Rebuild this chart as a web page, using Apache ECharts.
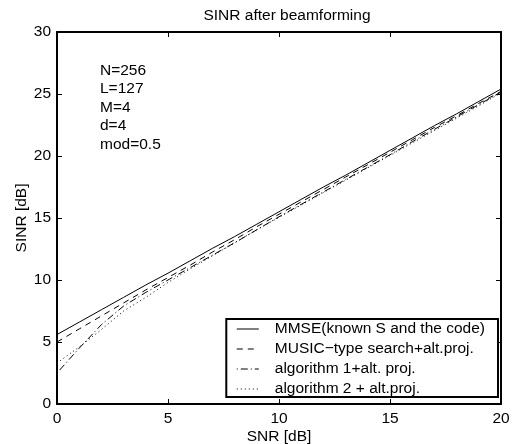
<!DOCTYPE html>
<html>
<head>
<meta charset="UTF-8">
<title>SINR after beamforming</title>
<script src="https://cdn.jsdelivr.net/npm/echarts@6/dist/echarts.min.js"></script>
<style>
  html, body { margin: 0; padding: 0; background: #fff; }
  #chart { width: 517px; height: 444px; }
</style>
</head>
<body>
<div id="chart"></div>
<script>
const snr = [0, 1, 2, 3, 4, 5, 6, 7, 8, 9, 10, 11, 12, 13, 14, 15, 16, 17, 18, 19, 20];
const mmse = [5.6, 6.6, 7.6, 8.6, 9.6, 10.55, 11.55, 12.55, 13.5, 14.5, 15.5, 16.5, 17.5, 18.45, 19.45, 20.45, 21.45, 22.45, 23.4, 24.4, 25.4];
const music = [5.0, 6.05, 7.1, 8.15, 9.2, 10.2, 11.2, 12.25, 13.25, 14.3, 15.3, 16.3, 17.3, 18.3, 19.3, 20.3, 21.3, 22.3, 23.25, 24.25, 25.2];
const alg1 = [2.5, 4.5, 6.4, 7.9, 9.0, 10.0, 11.0, 12.0, 13.0, 14.05, 15.1, 16.1, 17.1, 18.1, 19.1, 20.1, 21.15, 22.15, 23.15, 24.15, 25.15];
const alg2 = [3.3, 4.6, 6.0, 7.5, 8.6, 9.8, 10.9, 11.95, 13.0, 14.05, 15.05, 16.05, 17.05, 18.05, 19.05, 20.05, 21.05, 22.05, 23.05, 24.05, 25.1];
const names = ['MMSE(known S and the code)', 'MUSIC\u2212type search+alt.proj.', 'algorithm 1+alt. proj.', 'algorithm 2 + alt.proj.'];
const params = ['N=256', 'L=127', 'M=4', 'd=4', 'mod=0.5'];

const font = 'Liberation Sans, Arial, Helvetica, sans-serif';
const fs = 15.5;
const dashes = ['solid', [6, 5], [1, 3, 7, 3], [1, 3]];
const seriesData = [mmse, music, alg1, alg2];

const chart = echarts.init(document.getElementById('chart'));

const axisLine = { show: true, onZero: false, lineStyle: { color: '#000', width: 2 } };
const axisTick = { show: true, inside: true, length: 5, lineStyle: { color: '#000', width: 1 } };

// top / right copies just for the box ticks
const boxAxis = {
    type: 'value', min: 0, interval: 5,
    axisLine: axisLine,
    axisTick: axisTick,
    axisLabel: { show: false },
    splitLine: { show: false }
};

chart.setOption({
    animation: false,
    backgroundColor: '#fff',
    textStyle: { fontFamily: font, color: '#000' },
    title: {
        text: 'SINR after beamforming',
        left: 282, top: 3, textAlign: 'center',
        textStyle: { fontSize: fs, fontWeight: 'normal', color: '#000', fontFamily: font }
    },
    grid: { left: 57, right: 16, top: 32, bottom: 40, outerBoundsMode: 'none', containLabel: false },
    xAxis: [{
        type: 'value', min: 0, max: 20, interval: 5, position: 'bottom',
        name: 'SNR [dB]', nameLocation: 'middle', nameGap: 25, nameMoveOverlap: false,
        nameTextStyle: { fontSize: fs, color: '#000', fontFamily: font },
        axisLine: axisLine,
        axisTick: axisTick,
        axisLabel: { fontSize: fs, color: '#000', margin: 7, fontFamily: font },
        splitLine: { show: false }
    }, Object.assign({}, boxAxis, { max: 20, position: 'top' })],
    yAxis: [{
        type: 'value', min: 0, max: 30, interval: 5, position: 'left',
        name: 'SINR [dB]', nameLocation: 'middle', nameGap: 27, nameRotate: 90, nameMoveOverlap: false,
        nameTextStyle: { fontSize: fs, color: '#000', fontFamily: font },
        axisLine: axisLine,
        axisTick: axisTick,
        axisLabel: { fontSize: fs, color: '#000', margin: 6, fontFamily: font },
        splitLine: { show: false }
    }, Object.assign({}, boxAxis, { max: 30, position: 'right' })],
    legend: {
        orient: 'vertical',
        right: 19, bottom: 47,
        data: names,
        itemWidth: 22, itemHeight: 14, itemGap: 4,
        padding: [2, 13, 0, 10],
        backgroundColor: '#fff',
        borderColor: '#000', borderWidth: 2, borderRadius: 0,
        itemStyle: { opacity: 0 },
        lineStyle: { width: 1 },
        textStyle: { fontSize: fs, color: '#000', fontFamily: font, padding: [0, 0, 0, 11] }
    },
    graphic: [{
        type: 'text',
        left: 100, top: 61,
        style: {
            text: params.join('\n'),
            font: fs + 'px ' + font,
            lineHeight: 18.6,
            fill: '#000'
        }
    }],
    series: seriesData.map((d, i) => ({
        name: names[i],
        type: 'line',
        data: snr.map((x, j) => [x, d[j]]),
        symbol: 'none',
        color: '#000',
        lineStyle: { color: '#000', width: 1, type: dashes[i] }
    }))
});
</script>
</body>
</html>
